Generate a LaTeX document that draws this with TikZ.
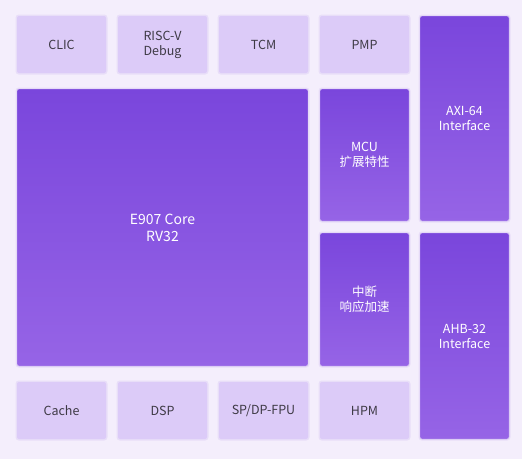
\documentclass[tikz,border=0pt]{standalone}
\usepackage{fontspec}
\setmainfont{Noto Sans CJK SC}
\definecolor{bgc}{HTML}{F4EEFC}
\definecolor{lightbox}{HTML}{DCCBF8}
\definecolor{darktop}{HTML}{7A46DC}
\definecolor{darkbot}{HTML}{9664E6}
\definecolor{txtdark}{HTML}{3E3A45}
\definecolor{glow}{HTML}{E6DAF8}
\tikzset{
  blk/.style={rounded corners=2pt, inner sep=0pt, align=center,
    preaction={draw=glow, line width=3pt, opacity=0.8}},
  lightblk/.style={blk, fill=lightbox, text=txtdark, font=\fontsize{12.5}{15}\selectfont},
  darkblk/.style={blk, top color=darktop, bottom color=darkbot, draw=white!60!darkbot, line width=0.4pt, text=white, font=\fontsize{12.5}{15}\selectfont},
}
\begin{document}
\begin{tikzpicture}[x=1pt,y=-1pt]
\fill[bgc] (0,0) rectangle (522,459);
\useasboundingbox (0,0) rectangle (522,459);
% top row
\node[lightblk, minimum width=89pt, minimum height=57pt] (clic) at (61.5,44.5) {CLIC};
\node[lightblk, minimum width=89pt, minimum height=57pt] (risc) at (162.5,44.5) {RISC-V\\Debug};
\node[lightblk, minimum width=89pt, minimum height=57pt] (tcm) at (263.5,44.5) {TCM};
\node[lightblk, minimum width=89pt, minimum height=57pt] (pmp) at (364.5,44.5) {PMP};
% right column
\node[darkblk, minimum width=89pt, minimum height=205pt] (axi) at (464.5,118.5) {AXI-64\\Interface};
\node[darkblk, minimum width=89pt, minimum height=206pt] (ahb) at (464.5,336) {AHB-32\\Interface};
% middle
\node[darkblk, minimum width=291pt, minimum height=277pt, font=\fontsize{14}{17}\selectfont] (core) at (162.5,227.5) {E907 Core\\RV32};
\node[darkblk, minimum width=89pt, minimum height=132pt] (mcu) at (364.5,155) {MCU\\扩展特性};
\node[darkblk, minimum width=89pt, minimum height=133pt] (irq) at (364.5,299.5) {中断\\响应加速};
% bottom row
\node[lightblk, minimum width=89pt, minimum height=57pt] (cache) at (61.5,410.5) {Cache};
\node[lightblk, minimum width=89pt, minimum height=57pt] (dsp) at (162.5,410.5) {DSP};
\node[lightblk, minimum width=89pt, minimum height=57pt] (fpu) at (263.5,410.5) {SP/DP-FPU};
\node[lightblk, minimum width=89pt, minimum height=57pt] (hpm) at (364.5,410.5) {HPM};
\end{tikzpicture}
\end{document}
